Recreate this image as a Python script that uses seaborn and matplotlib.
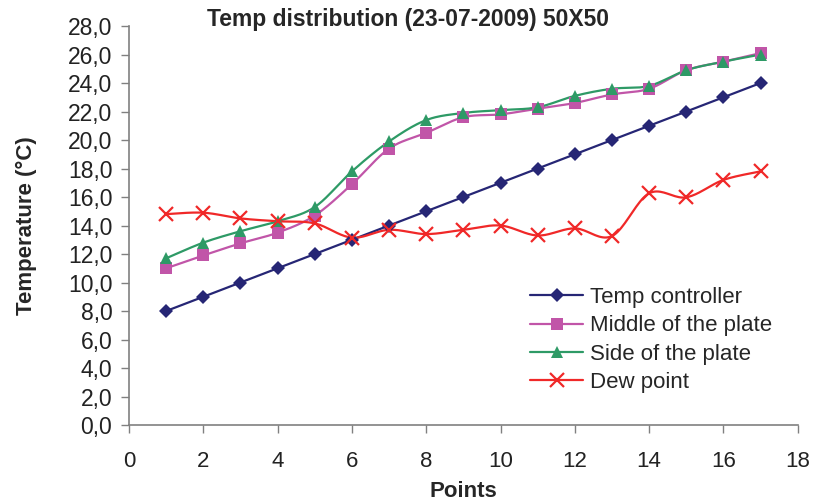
import numpy as np
import pandas as pd
import seaborn as sns
import matplotlib
matplotlib.use("Agg")
import matplotlib.pyplot as plt
from matplotlib.lines import Line2D

points = list(range(1, 18))
temp_controller = [8.0, 9.0, 10.0, 11.0, 12.0, 13.0, 14.0, 15.0, 16.0, 17.0, 18.0, 19.0, 20.0, 21.0, 22.0, 23.0, 24.0]
middle_plate = [11.0, 11.9, 12.75, 13.5, 14.7, 16.9, 19.4, 20.5, 21.6, 21.8, 22.2, 22.6, 23.2, 23.6, 24.9, 25.5, 26.1]
side_plate = [11.7, 12.8, 13.6, 14.3, 15.3, 17.8, 19.9, 21.4, 21.9, 22.1, 22.3, 23.1, 23.6, 23.8, 24.9, 25.5, 26.0]
dew_point = [14.8, 14.9, 14.5, 14.3, 14.15, 13.15, 13.7, 13.4, 13.7, 14.0, 13.3, 13.8, 13.26, 16.26, 15.98, 17.2, 17.8]

series_names = ["Temp controller", "Middle of the plate", "Side of the plate", "Dew point"]
series_values = [temp_controller, middle_plate, side_plate, dew_point]
colors = ["#262675", "#C155A8", "#2E9A66", "#F02828"]
markers = ["D", "s", "^", "x"]
msizes = [7, 8, 9, 10]

sns.set_style("white")
plt.rcParams['font.family'] = ['Liberation Sans', 'DejaVu Sans']


def smooth(x, y, n=20):
    # Catmull-Rom style Bezier smoothing (like spreadsheet "smoothed line")
    x = np.asarray(x, float)
    y = np.asarray(y, float)
    px = np.concatenate([[x[0]], x, [x[-1]]])
    py = np.concatenate([[y[0]], y, [y[-1]]])
    xs, ys = [], []
    t = np.linspace(0, 1, n, endpoint=False)
    for i in range(1, len(px) - 2):
        p0 = np.array([px[i], py[i]])
        p3 = np.array([px[i + 1], py[i + 1]])
        p1 = p0 + (np.array([px[i + 1], py[i + 1]]) - np.array([px[i - 1], py[i - 1]])) / 6.0
        p2 = p3 - (np.array([px[i + 2], py[i + 2]]) - np.array([px[i], py[i]])) / 6.0
        b = ((1 - t) ** 3)[:, None] * p0 + (3 * (1 - t) ** 2 * t)[:, None] * p1 + \
            (3 * (1 - t) * t ** 2)[:, None] * p2 + (t ** 3)[:, None] * p3
        xs.extend(b[:, 0])
        ys.extend(b[:, 1])
    xs.append(x[-1])
    ys.append(y[-1])
    return np.array(xs), np.array(ys)


fig = plt.figure(figsize=(8.14, 5.01), dpi=100)
ax = fig.add_axes([0.1585, 0.1517, 0.8215, 0.7963])

handles = []
for name, vals, c, m, ms in zip(series_names, series_values, colors, markers, msizes):
    sx, sy = smooth(points, vals)
    df_s = pd.DataFrame({"x": sx, "y": sy})
    sns.lineplot(data=df_s, x="x", y="y", ax=ax, color=c, linewidth=1.6, sort=False,
                 estimator=None, zorder=2)
    df = pd.DataFrame({"x": points, "y": vals})
    if m == "x":
        ax.plot(df["x"], df["y"], linestyle="none", marker=m, color=c, markersize=ms,
                markeredgewidth=1.6, zorder=3)
    else:
        ax.plot(df["x"], df["y"], linestyle="none", marker=m, color=c, markersize=ms,
                markeredgewidth=0, zorder=3)
    handles.append(Line2D([0], [0], color=c, linewidth=1.6, marker=m, markersize=ms,
                          markeredgewidth=1.6 if m == "x" else 0))

ax.set_xlim(0, 18)
ax.set_ylim(0, 28)
ax.set_xticks(range(0, 19, 2))
ax.set_yticks(np.arange(0, 28.1, 2))
ax.set_yticklabels([f"{v:.1f}".replace(".", ",") for v in np.arange(0, 28.1, 2)])
ax.tick_params(axis="x", labelsize=16, pad=13)
ax.tick_params(axis="y", labelsize=16.5, pad=6)
ax.tick_params(axis="both", labelcolor="#222222", color="#808080", length=6, width=1,
               direction="out", bottom=True, left=True)

for s in ["top", "right"]:
    ax.spines[s].set_visible(False)
for s in ["left", "bottom"]:
    ax.spines[s].set_color("#808080")
    ax.spines[s].set_linewidth(1.2)

ax.set_xlabel("Points", fontsize=16, fontweight="bold", labelpad=6)
ax.set_ylabel("Temperature (°C)", fontsize=16, fontweight="bold", labelpad=22)
fig.text(0.501, 0.961, "Temp distribution (23-07-2009) 50X50", fontsize=16.5,
         fontweight="bold", ha="center", va="center")

ax.legend(handles, series_names, loc="upper left", bbox_to_anchor=(0.593, 0.357),
          frameon=False, fontsize=16, handlelength=2.4, handletextpad=0.3,
          labelspacing=0.33, borderpad=0.2, borderaxespad=0)

fig.savefig("out.png", dpi=100)
